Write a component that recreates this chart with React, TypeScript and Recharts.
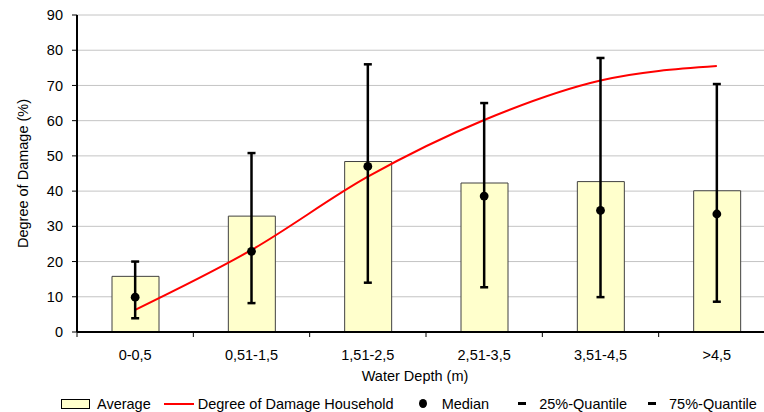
import React from 'react';
import {
  ComposedChart,
  Bar,
  Line,
  Scatter,
  ErrorBar,
  XAxis,
  YAxis,
  CartesianGrid,
  Label,
} from 'recharts';

const categories = ['0-0,5', '0,51-1,5', '1,51-2,5', '2,51-3,5', '3,51-4,5', '>4,5'];
const averageValues = [15.8, 32.9, 48.4, 42.3, 42.7, 40.1];
const householdCurve = [6.3, 23.3, 44.1, 60.2, 71.4, 75.5];
const medianValues = [9.9, 22.9, 47.0, 38.6, 34.5, 33.5];
const quantile25 = [3.9, 8.2, 14.0, 12.7, 9.9, 8.6];
const quantile75 = [20.0, 50.8, 76.0, 65.0, 77.8, 70.4];
const yTicks = [0, 10, 20, 30, 40, 50, 60, 70, 80, 90];

const data = categories.map((c, i) => ({
  name: c,
  average: averageValues[i],
  curve: householdCurve[i],
  median: medianValues[i],
  err: [medianValues[i] - quantile25[i], quantile75[i] - medianValues[i]],
}));

const FONT = '"Liberation Sans", Arial, sans-serif';
const FS = 14.5;

const XTick = (props: any) => {
  const { x, y, payload } = props;
  const off = payload && typeof payload.offset === 'number' ? payload.offset : 58;
  return (
    <g>
      <line x1={x - off} x2={x - off} y1={y} y2={y + 5} stroke="#000" strokeWidth={1} />
      <text x={x} y={y + 28} textAnchor="middle" fontSize={FS} fontFamily={FONT} fill="#000">
        {payload.value}
      </text>
    </g>
  );
};

const YLabel = (props: any) => {
  const vb = props.viewBox || {};
  const cx = 28;
  const cy = vb.y + vb.height / 2;
  return (
    <text
      x={cx}
      y={cy}
      transform={`rotate(-90, ${cx}, ${cy})`}
      textAnchor="middle"
      fontSize={FS}
      fontFamily={FONT}
      fill="#000"
    >
      Degree of Damage (%)
    </text>
  );
};

const XLabel = (props: any) => {
  const vb = props.viewBox || {};
  return (
    <text x={415} y={vb.y + 49} textAnchor="middle" fontSize={FS} fontFamily={FONT} fill="#000">
      Water Depth (m)
    </text>
  );
};

const legendText: React.CSSProperties = { fontSize: FS, fontFamily: FONT, color: '#000', whiteSpace: 'nowrap' };

const LegendRow = () => (
  <div
    style={{
      position: 'absolute',
      left: 61,
      top: 395,
      height: 17,
      display: 'flex',
      alignItems: 'center',
    }}
  >
    <span style={{ width: 27, height: 8, background: '#FFFFCC', border: '1px solid #000', display: 'inline-block' }} />
    <span style={{ ...legendText, marginLeft: 7 }}>Average</span>
    <span style={{ width: 30, height: 2, background: '#FF0000', display: 'inline-block', marginLeft: 13 }} />
    <span style={{ ...legendText, marginLeft: 4 }}>Degree of Damage Household</span>
    <span style={{ width: 8, height: 9, borderRadius: '50%', background: '#000', display: 'inline-block', marginLeft: 25 }} />
    <span style={{ ...legendText, marginLeft: 15 }}>Median</span>
    <span style={{ width: 8, height: 3, background: '#000', display: 'inline-block', marginLeft: 29 }} />
    <span style={{ ...legendText, marginLeft: 13 }}>25%-Quantile</span>
    <span style={{ width: 8, height: 3, background: '#000', display: 'inline-block', marginLeft: 21 }} />
    <span style={{ ...legendText, marginLeft: 13 }}>75%-Quantile</span>
  </div>
);

export default function App() {
  return (
    <div
      style={{
        position: 'absolute',
        left: 0,
        top: 0,
        width: 764,
        height: 412,
        overflow: 'hidden',
        background: '#fff',
      }}
    >
      <ComposedChart
        width={775}
        height={412}
        data={data}
        margin={{ top: 15, right: 0, bottom: 20, left: 0 }}
        barSize={47}
      >
        <CartesianGrid vertical={false} stroke="#C4C4C4" strokeWidth={1} />
        <XAxis
          dataKey="name"
          height={60}
          tickLine={false}
          tickSize={0}
          tickMargin={0}
          axisLine={{ stroke: '#000', strokeWidth: 2 }}
          tick={<XTick />}
          interval={0}
        >
          <Label content={<XLabel />} />
        </XAxis>
        <YAxis
          width={77}
          domain={[0, 90]}
          ticks={yTicks}
          interval={0}
          allowDataOverflow
          tickSize={5}
          tickMargin={9}
          tickLine={{ stroke: '#000' }}
          axisLine={{ stroke: '#000', strokeWidth: 2 }}
          tick={{ fontSize: FS, fontFamily: FONT, fill: '#000' }}
        >
          <Label content={<YLabel />} />
        </YAxis>
        <Bar dataKey="average" fill="#FFFFCC" stroke="#404040" strokeWidth={1} isAnimationActive={false} />
        <Line
          dataKey="curve"
          type="monotone"
          stroke="#FF0000"
          strokeWidth={2}
          dot={false}
          activeDot={false}
          isAnimationActive={false}
        />
        <Scatter
          dataKey="median"
          fill="#000"
          isAnimationActive={false}
          shape={(p: any) => <circle cx={p.cx} cy={p.cy} r={4.4} fill="#000" />}
        >
          <ErrorBar dataKey="err" direction="y" width={4} stroke="#000" strokeWidth={2.5} isAnimationActive={false} />
        </Scatter>
      </ComposedChart>
      <LegendRow />
    </div>
  );
}
